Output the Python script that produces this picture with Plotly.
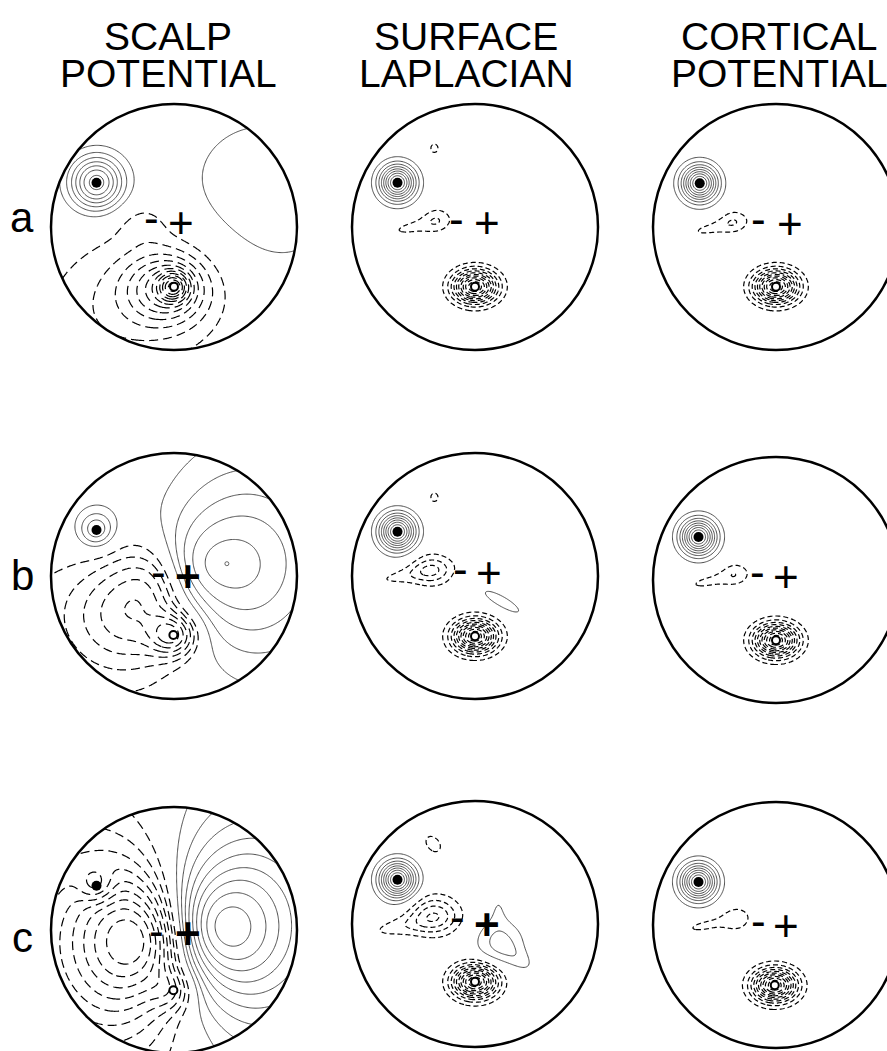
import numpy as np
import plotly.graph_objects as go

W, H = 887, 1051
R_PX = 123.0
FONT = "Liberation Sans, Arial, Helvetica, sans-serif"

# ---------------- text ----------------
HEADER_LINE1 = ["SCALP", "SURFACE", "CORTICAL"]
HEADER_LINE2 = ["POTENTIAL", "LAPLACIAN", "POTENTIAL"]
HEADER_X = [168, 466, 779]          # px, centre of each column title
HEADER_BASE = [50, 87]              # px, baselines of the two title lines
HEADER_SIZE = 39
ROW_LABELS = ["a", "b", "c"]
ROW_LABEL_X = 22
ROW_LABEL_BASE = [232, 590, 952]

# ---------------- panel placement (px) ----------------
COL_CX = [174, 475, 776]
PANEL_CY = [[227, 227, 227], [576, 576, 580], [930, 924, 925]]

# ---------------- marks, panel order a1 a2 a3 b1 b2 b3 c1 c2 c3 ----------------
DOT_U = [-0.63, -0.63, -0.62, -0.63, -0.63, -0.63, -0.63, -0.63, -0.63]
DOT_V = [0.36, 0.36, 0.355, 0.374, 0.36, 0.35, 0.36, 0.36, 0.35]
OPEN_U = [0.0, 0.0, 0.0, -0.005, 0.0, 0.0, -0.005, 0.0, -0.01]
OPEN_V = [-0.485, -0.485, -0.485, -0.48, -0.49, -0.49, -0.49, -0.47, -0.49]
MINUS_U = [-0.18, -0.15, -0.14, -0.13, -0.12, -0.15, -0.14, -0.14, -0.14]
MINUS_V = [0.05, 0.04, 0.04, 0.008, 0.035, 0.04, -0.03, 0.03, 0.01]
PLUS_U = [0.055, 0.095, 0.11, 0.11, 0.116, 0.085, 0.11, 0.10, 0.085]
PLUS_V = [0.04, 0.035, 0.03, -0.005, 0.03, 0.03, -0.03, 0.0, 0.0]
PLUS_BOLD = [False, False, False, True, False, False, True, True, False]
PEAK_U = [0.43]        # small peak ring in panel b1
PEAK_V = [0.10]
PEAK_PANEL = [3]

# ---------------- sources (amplitude in contour steps) ----------------
SRC_PANEL = [0, 0, 0, 0, 0, 0,
             1, 1, 1, 1, 1,
             2, 2, 2, 2,
             3, 3, 3, 3, 3, 3,
             4, 4, 4, 4, 4, 4,
             5, 5, 5, 5,
             6, 6, 6, 6, 6,
             7, 7, 7, 7, 7, 7, 7, 7,
             8, 8, 8, 8]
SRC_KIND = ["g", "g", "g", "g", "g", "g",
            "g", "g", "g", "g", "g",
            "g", "g", "g", "g",
            "g", "d", "g", "g", "g", "g",
            "g", "g", "g", "g", "g", "g",
            "g", "g", "g", "g",
            "d", "g", "g", "g", "g",
            "g", "g", "g", "g", "g", "g", "g", "g",
            "g", "g", "g", "g"]
SRC_U = [-0.63, 0.00, -0.06, -0.30, -0.25, 0.72,
         -0.63, 0.00, -0.31, -0.50, -0.33,
         -0.62, 0.00, -0.34, -0.52,
         -0.63, 0.00, 0.65, 0.00, -0.35, -0.63,
         -0.63, 0.00, -0.35, -0.58, -0.33, 0.22,
         -0.63, 0.00, -0.33, -0.54,
         0.03, 0.65, -0.45, -0.63, 0.00,
         -0.63, 0.00, -0.33, -0.60, -0.34, 0.20, 0.19, 0.37,
         -0.63, -0.01, -0.32, -0.56]
SRC_V = [0.36, -0.485, -0.50, -0.60, 0.03, 0.25,
         0.36, -0.485, 0.06, 0.00, 0.64,
         0.355, -0.485, 0.05, -0.01,
         0.374, 0.00, 0.10, -0.48, -0.35, 0.40,
         0.36, -0.49, 0.05, 0.00, 0.64, -0.21,
         0.35, -0.49, 0.05, -0.01,
         -0.03, 0.05, -0.15, 0.36, -0.49,
         0.36, -0.47, 0.07, -0.02, 0.65, -0.15, 0.15, -0.29,
         0.35, -0.49, 0.05, 0.00]
SRC_AMP = [7.6, -6.0, -5.0, -2.4, -1.0, 1.9,
           9.4, -11.0, -1.4, -1.2, -1.15,
           9.4, -11.0, -1.4, -1.2,
           3.5, 3.0, 3.3, -5.0, -3.0, 1.5,
           9.4, -11.0, -2.8, -1.2, -1.15, 1.4,
           9.4, -11.0, -1.4, -1.2,
           8.0, 2.0, -2.0, 2.5, -2.5,
           9.4, -11.0, -3.7, -1.35, -1.3, 2.3, 0.85, 1.0,
           9.4, -11.0, -1.4, -1.2]
SRC_SX = [0.15, 0.08, 0.22, 0.55, 0.15, 0.50,
          0.10, 0.12, 0.08, 0.20, 0.055,
          0.10, 0.12, 0.08, 0.19,
          0.10, 0.42, 0.45, 0.13, 0.35, 0.30,
          0.10, 0.12, 0.12, 0.22, 0.055, 0.19,
          0.10, 0.12, 0.08, 0.19,
          0.55, 0.35, 0.30, 0.10, 0.12,
          0.10, 0.12, 0.14, 0.22, 0.096, 0.14, 0.06, 0.12,
          0.10, 0.12, 0.08, 0.20]
SRC_SY = [0.15, 0.08, 0.19, 0.40, 0.12, 0.50,
          0.10, 0.09, 0.075, 0.055, 0.065,
          0.10, 0.09, 0.07, 0.05,
          0.10, 0.42, 0.55, 0.12, 0.30, 0.30,
          0.10, 0.09, 0.09, 0.05, 0.065, 0.05,
          0.10, 0.09, 0.07, 0.05,
          0.55, 0.55, 0.45, 0.10, 0.12,
          0.10, 0.09, 0.11, 0.06, 0.068, 0.13, 0.12, 0.06,
          0.10, 0.09, 0.075, 0.05]
SRC_ANG = [0, 0, 0, 20, 0, 0,
           0, 0, 0, 12, 0,
           0, 0, 0, 12,
           0, 15, 0, 0, 0, 0,
           0, 0, 0, 10, 0, -30,
           0, 0, 0, 12,
           8, 0, 0, 0, 0,
           0, 0, 0, 10, -50, 0, 0, -40,
           0, 0, 0, 12]

N = 221
GRID = np.linspace(-1.02, 1.02, N)
X, Y = np.meshgrid(GRID, GRID)


def field(p):
    Z = np.zeros_like(X)
    for i in range(len(SRC_PANEL)):
        if SRC_PANEL[i] != p:
            continue
        dx = X - SRC_U[i]
        dy = Y - SRC_V[i]
        t = np.deg2rad(SRC_ANG[i])
        if SRC_KIND[i] == "g":
            a = (dx * np.cos(t) + dy * np.sin(t)) / SRC_SX[i]
            b = (-dx * np.sin(t) + dy * np.cos(t)) / SRC_SY[i]
            Z += SRC_AMP[i] * np.exp(-0.5 * (a * a + b * b))
        else:  # deep tangential dipole, peak value = amplitude
            h = SRC_SX[i]
            proj = dx * np.cos(t) + dy * np.sin(t)
            Z += SRC_AMP[i] * proj / (dx * dx + dy * dy + h * h) ** 1.5 * h * h / 0.3849
    return Z.astype(np.float32)


fig = go.Figure()
shapes = []
annotations = []
theta = np.linspace(0, -2 * np.pi, 241)

for p in range(9):
    r, c = divmod(p, 3)
    k = p + 1
    xa = "x" if k == 1 else f"x{k}"
    ya = "y" if k == 1 else f"y{k}"
    cx, cy = COL_CX[c], PANEL_CY[r][c]
    px0, px1 = max(0, cx - 132), min(W, cx + 132)
    py0, py1 = max(0, cy - 132), min(H, cy + 132)
    xr = [(px0 - cx) / R_PX, (px1 - cx) / R_PX]
    yr = [(cy - py1) / R_PX, (cy - py0) / R_PX]
    fig.layout["xaxis" if k == 1 else f"xaxis{k}"] = dict(
        domain=[px0 / W, px1 / W], range=xr, visible=False, fixedrange=True, anchor=ya)
    fig.layout["yaxis" if k == 1 else f"yaxis{k}"] = dict(
        domain=[1 - py1 / H, 1 - py0 / H], range=yr, visible=False, fixedrange=True, anchor=xa)

    Z = field(p)
    dash = "9px,5px" if c == 0 else "5px,3px"
    fig.add_trace(go.Contour(
        x=GRID, y=GRID, z=Z, xaxis=xa, yaxis=ya, autocontour=False,
        contours=dict(start=1, end=40, size=1, coloring="none"),
        line=dict(color="#3a3a3a", width=0.9, smoothing=1.0),
        showscale=False, hoverinfo="skip"))
    fig.add_trace(go.Contour(
        x=GRID, y=GRID, z=Z, xaxis=xa, yaxis=ya, autocontour=False,
        contours=dict(start=-40, end=-1, size=1, coloring="none"),
        line=dict(color="black", width=1.2, dash=dash, smoothing=1.0),
        showscale=False, hoverinfo="skip"))
    fig.add_trace(go.Scatter(
        x=[DOT_U[p]], y=[DOT_V[p]], xaxis=xa, yaxis=ya, mode="markers",
        marker=dict(size=10, color="black"), hoverinfo="skip"))
    fig.add_trace(go.Scatter(
        x=[OPEN_U[p]], y=[OPEN_V[p]], xaxis=xa, yaxis=ya, mode="markers",
        marker=dict(size=8, color="white", line=dict(color="black", width=2)),
        hoverinfo="skip"))
    for j in range(len(PEAK_PANEL)):
        if PEAK_PANEL[j] == p:
            fig.add_trace(go.Scatter(
                x=[PEAK_U[j]], y=[PEAK_V[j]], xaxis=xa, yaxis=ya, mode="markers",
                marker=dict(size=4, color="white", line=dict(color="#444", width=0.8)),
                hoverinfo="skip"))
    path = (f"M {xr[0]-0.1},{yr[0]-0.1} L {xr[1]+0.1},{yr[0]-0.1} "
            f"L {xr[1]+0.1},{yr[1]+0.1} L {xr[0]-0.1},{yr[1]+0.1} Z ")
    path += "M " + " L ".join(f"{np.cos(t):.4f},{np.sin(t):.4f}" for t in theta) + " Z"
    shapes.append(dict(type="path", path=path, xref=xa, yref=ya, fillcolor="white",
                       line=dict(width=0), layer="above", fillrule="evenodd"))
    shapes.append(dict(type="circle", x0=-1, x1=1, y0=-1, y1=1, xref=xa, yref=ya,
                       line=dict(color="black", width=2.5), layer="above"))
    annotations.append(dict(x=MINUS_U[p], y=MINUS_V[p] + 0.028, xref=xa, yref=ya, text="-",
                            showarrow=False, font=dict(family=FONT, size=44, color="black"),
                            xanchor="center", yanchor="middle"))
    plus = "<b>+</b>" if PLUS_BOLD[p] else "+"
    annotations.append(dict(x=PLUS_U[p], y=PLUS_V[p], xref=xa, yref=ya, text=plus,
                            showarrow=False, font=dict(family=FONT, size=44, color="black"),
                            xanchor="center", yanchor="middle"))

for c in range(3):
    for line_text, base in zip([HEADER_LINE1[c], HEADER_LINE2[c]], HEADER_BASE):
        annotations.append(dict(x=HEADER_X[c] / W, y=1 - (base - 0.3465 * HEADER_SIZE) / H,
                                xref="paper", yref="paper", text=line_text, showarrow=False,
                                font=dict(family=FONT, size=HEADER_SIZE, color="black"),
                                xanchor="center", yanchor="middle"))
for r in range(3):
    annotations.append(dict(x=ROW_LABEL_X / W, y=1 - (ROW_LABEL_BASE[r] - 0.3465 * 42) / H,
                            xref="paper", yref="paper", text=ROW_LABELS[r], showarrow=False,
                            font=dict(family=FONT, size=42, color="black"),
                            xanchor="center", yanchor="middle"))

fig.update_layout(width=W, height=H, margin=dict(l=0, r=0, t=0, b=0),
                  paper_bgcolor="white", plot_bgcolor="white", showlegend=False,
                  shapes=shapes, annotations=annotations)
fig.write_html("out.html", config={"displayModeBar": False, "staticPlot": True},
               post_script="document.body.style.margin='0px';")
